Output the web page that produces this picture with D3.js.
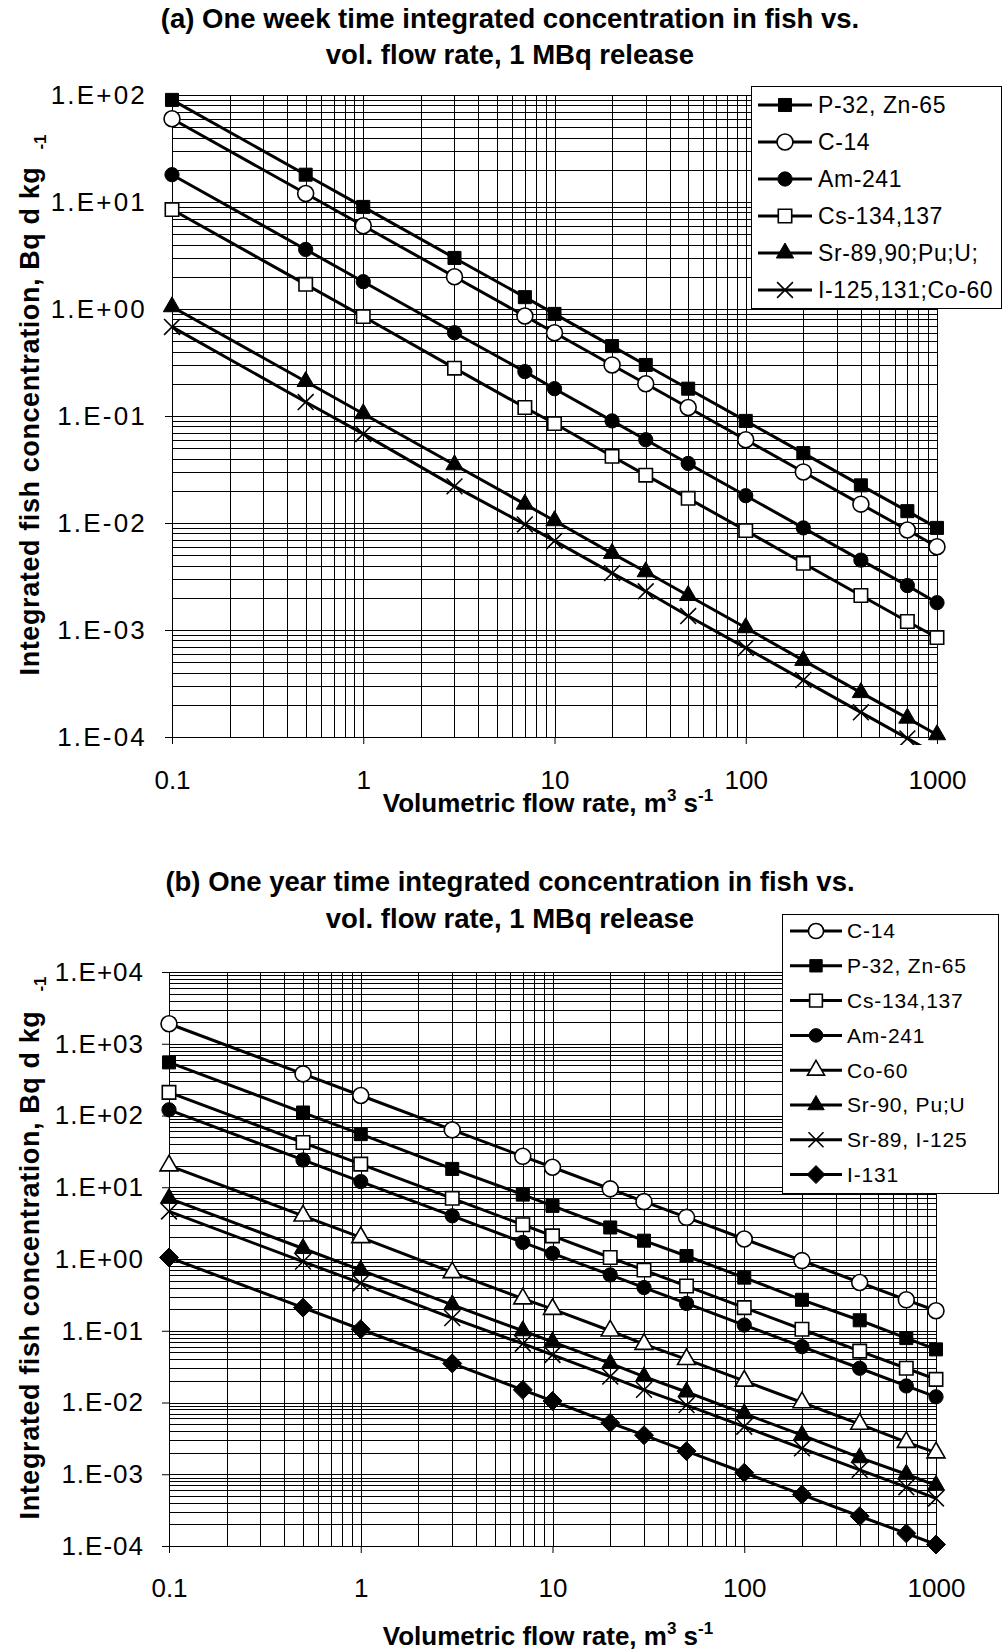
<!DOCTYPE html>
<html><head><meta charset="utf-8">
<script src="https://cdn.jsdelivr.net/npm/d3@7"></script>
<style>
html,body{margin:0;padding:0;background:#fff;}
svg text{font-family:"Liberation Sans",Arial,sans-serif;fill:#000;}
</style></head>
<body><svg id="c" width="1005" height="1650"></svg>
<script>
// ---------- data ----------
const flowRates = [0.1, 0.5, 1, 3, 7, 10, 20, 30, 50, 100, 200, 400, 700, 1000];

// (a) one week
const weekNames = ["P-32, Zn-65", "C-14", "Am-241", "Cs-134,137", "Sr-89,90;Pu;U;", "I-125,131;Co-60"];
const weekP32 = [90, 18, 9, 3, 1.29, 0.9, 0.45, 0.3, 0.18, 0.09, 0.045, 0.0225, 0.0129, 0.009];
const weekC14 = [60, 12, 6, 2, 0.86, 0.6, 0.3, 0.2, 0.12, 0.06, 0.03, 0.015, 0.0086, 0.006];
const weekAm241 = [18, 3.6, 1.8, 0.6, 0.26, 0.18, 0.09, 0.06, 0.036, 0.018, 0.009, 0.0045, 0.0026, 0.0018];
const weekCs = [8.5, 1.7, 0.85, 0.28, 0.12, 0.085, 0.042, 0.028, 0.017, 0.0085, 0.0042, 0.0021, 0.0012, 0.00085];
const weekSr = [1.05, 0.21, 0.105, 0.035, 0.015, 0.0105, 0.0052, 0.0035, 0.0021, 0.00105, 0.00052, 0.00026, 0.00015, 0.000105];
const weekI = [0.68, 0.135, 0.068, 0.022, 0.0097, 0.0068, 0.0034, 0.0023, 0.00135, 0.00068, 0.00034, 0.00017, 0.000097, 0.000068];

// (b) one year
const yearNames = ["C-14", "P-32, Zn-65", "Cs-134,137", "Am-241", "Co-60", "Sr-90, Pu;U", "Sr-89, I-125", "I-131"];
const yearC14 = [1900, 380, 190, 63, 27, 19, 9.5, 6.3, 3.8, 1.9, 0.95, 0.47, 0.27, 0.19];
const yearP32 = [550, 110, 55, 18, 7.9, 5.5, 2.75, 1.8, 1.1, 0.55, 0.27, 0.14, 0.079, 0.055];
const yearCs = [210, 42, 21, 7, 3, 2.1, 1.05, 0.7, 0.42, 0.21, 0.105, 0.052, 0.03, 0.021];
const yearAm241 = [120, 24, 12, 4, 1.7, 1.2, 0.6, 0.4, 0.24, 0.12, 0.06, 0.03, 0.017, 0.012];
const yearCo60 = [20, 4, 2, 0.65, 0.28, 0.2, 0.1, 0.065, 0.04, 0.02, 0.01, 0.005, 0.0028, 0.002];
const yearSr90 = [7, 1.4, 0.7, 0.23, 0.1, 0.07, 0.035, 0.023, 0.014, 0.007, 0.0035, 0.0017, 0.001, 0.0007];
const yearSr89 = [4.6, 0.92, 0.46, 0.15, 0.066, 0.046, 0.023, 0.015, 0.0092, 0.0046, 0.0023, 0.00115, 0.00066, 0.00046];
const yearI131 = [1.05, 0.21, 0.105, 0.035, 0.015, 0.0105, 0.0052, 0.0035, 0.0021, 0.00105, 0.00052, 0.00026, 0.00015, 0.000105];

// tick labels
const xTickValues = [0.1, 1, 10, 100, 1000];
const xTickLabels = ["0.1", "1", "10", "100", "1000"];
const yTickValuesA = [1e2, 1e1, 1e0, 1e-1, 1e-2, 1e-3, 1e-4];
const yTickLabelsA = ["1.E+02", "1.E+01", "1.E+00", "1.E-01", "1.E-02", "1.E-03", "1.E-04"];
const yTickValuesB = [1e4, 1e3, 1e2, 1e1, 1e0, 1e-1, 1e-2, 1e-3, 1e-4];
const yTickLabelsB = ["1.E+04", "1.E+03", "1.E+02", "1.E+01", "1.E+00", "1.E-01", "1.E-02", "1.E-03", "1.E-04"];

const titleA = ["(a) One week time integrated concentration in fish vs.", "vol. flow rate, 1 MBq release"];
const titleB = ["(b) One year time integrated concentration in fish vs.", "vol. flow rate, 1 MBq release"];
const xTitleParts = ["Volumetric flow rate, m", "3", " s", "-1"];
const yTitleParts = ["Integrated fish concentration, Bq d kg", "-1"];

// ---------- marker shapes ----------
const symX = {draw(ctx, size){const r=Math.sqrt(size)/2; ctx.moveTo(-r,-r);ctx.lineTo(r,r);ctx.moveTo(r,-r);ctx.lineTo(-r,r);}};
const symDiamond = {draw(ctx, size){const r=Math.sqrt(size)/2; ctx.moveTo(0,-r);ctx.lineTo(r,0);ctx.lineTo(0,r);ctx.lineTo(-r,0);ctx.closePath();}};
const markers = {
  sqFill: {type:d3.symbolSquare, size:170, fill:"#000", sw:1},
  sqOpen: {type:d3.symbolSquare, size:180, fill:"#fff", sw:1.6},
  ciFill: {type:d3.symbolCircle, size:160, fill:"#000", sw:1},
  ciOpen: {type:d3.symbolCircle, size:200, fill:"#fff", sw:1.6},
  trFill: {type:d3.symbolTriangle, size:130, fill:"#000", sw:1},
  trOpen: {type:d3.symbolTriangle, size:140, fill:"#fff", sw:1.6},
  xMark: {type:symX, size:250, fill:"none", sw:1.6},
  diFill: {type:symDiamond, size:360, fill:"#000", sw:1}
};

const svg = d3.select("#c");

function drawChart(cfg){
  const x = d3.scaleLog().domain([0.1, 1000]).range([cfg.x0, cfg.x1]);
  const y = d3.scaleLog().domain(cfg.yDomain).range([cfg.yBot, cfg.yTop]);
  const g = svg.append("g");

  // grid
  const xs = [], ys = [];
  for (let e = -1; e <= 3; e++) for (let k = 1; k <= 9; k++) { const v = k * Math.pow(10, e); if (v <= 1000 * 1.0001) xs.push(v); }
  const eMin = Math.round(Math.log10(cfg.yDomain[0])), eMax = Math.round(Math.log10(cfg.yDomain[1]));
  for (let e = eMin; e <= eMax; e++) for (let k = 1; k <= 9; k++) { const v = k * Math.pow(10, e); if (v <= cfg.yDomain[1] * 1.0001) ys.push(v); }
  const grid = g.append("g").attr("shape-rendering", "crispEdges");
  grid.selectAll("line.v").data(xs).join("line")
    .attr("x1", d => Math.round(x(d)) + 0.5).attr("x2", d => Math.round(x(d)) + 0.5)
    .attr("y1", cfg.yTop).attr("y2", cfg.yBot).attr("stroke", "#000").attr("stroke-width", 1);
  grid.selectAll("line.h").data(ys).join("line")
    .attr("y1", d => Math.round(y(d)) + 0.5).attr("y2", d => Math.round(y(d)) + 0.5)
    .attr("x1", cfg.x0).attr("x2", cfg.x1).attr("stroke", "#000").attr("stroke-width", 1);

  // axes
  const ax = g.append("g").attr("transform", `translate(0,${cfg.yBot})`)
    .call(d3.axisBottom(x).tickValues(xTickValues).tickFormat((d, i) => xTickLabels[i]).tickSize(7).tickPadding(cfg.xPad));
  const ay = g.append("g").attr("transform", `translate(${cfg.x0},0)`)
    .call(d3.axisLeft(y).tickValues(cfg.yTicks).tickFormat((d, i) => cfg.yLabels[i]).tickSize(7).tickPadding(18));
  [ax, ay].forEach(a => {
    a.select(".domain").attr("stroke", "#000").attr("stroke-width", 1);
    a.selectAll(".tick line").attr("stroke", "#000");
    a.selectAll(".tick text").style("font-family", '"Liberation Sans",Arial,sans-serif').style("font-size", "26px").attr("fill", "#000");
  });
  ay.selectAll(".tick text").style("letter-spacing", cfg.yLs + "px");

  // clip
  const cid = "clip" + cfg.id;
  svg.append("clipPath").attr("id", cid).append("rect")
    .attr("x", cfg.x0 - 20).attr("y", cfg.yTop - 20).attr("width", cfg.x1 - cfg.x0 + 40).attr("height", cfg.yBot - cfg.yTop + 28);
  const plot = g.append("g").attr("clip-path", `url(#${cid})`);
  const line = d3.line().x((d, i) => x(flowRates[i])).y(d => y(d));
  cfg.series.forEach(s => {
    plot.append("path").datum(s.values).attr("d", line).attr("fill", "none").attr("stroke", "#000").attr("stroke-width", 3);
  });
  cfg.series.forEach(s => {
    const m = markers[s.marker];
    const sym = d3.symbol().type(m.type).size(m.size);
    plot.selectAll(null).data(s.values).join("path")
      .attr("d", sym).attr("transform", (d, i) => `translate(${x(flowRates[i])},${y(d)})`)
      .attr("fill", m.fill).attr("stroke", "#000").attr("stroke-width", m.sw);
  });

  // legend
  const L = cfg.legend;
  const lg = svg.append("g");
  lg.append("rect").attr("x", L.x + 0.5).attr("y", L.y + 0.5).attr("width", L.w).attr("height", L.h)
    .attr("fill", "#fff").attr("stroke", "#000").attr("stroke-width", 1);
  cfg.series.forEach((s, i) => {
    const cy = L.row0 + i * L.dy;
    lg.append("line").attr("x1", L.lx0).attr("x2", L.lx1).attr("y1", cy).attr("y2", cy).attr("stroke", "#000").attr("stroke-width", 3);
    const m = markers[s.marker];
    lg.append("path").attr("d", d3.symbol().type(m.type).size(m.size * L.ms)())
      .attr("transform", `translate(${(L.lx0 + L.lx1) / 2},${cy})`)
      .attr("fill", m.fill).attr("stroke", "#000").attr("stroke-width", m.sw);
    lg.append("text").attr("x", L.tx).attr("y", cy).attr("dy", "0.35em")
      .style("font-size", L.fs + "px").style("letter-spacing", L.ls + "px").text(s.name);
  });

  // titles
  cfg.title.forEach((t, i) => {
    svg.append("text").attr("x", cfg.tx).attr("y", cfg.ty[i]).attr("text-anchor", "middle")
      .style("font-size", "27.5px").style("font-weight", "bold").text(t);
  });
  const xt = svg.append("text").attr("x", cfg.xtX).attr("y", cfg.xtY).attr("text-anchor", "middle")
    .style("font-size", "26px").style("font-weight", "bold");
  xt.append("tspan").text(xTitleParts[0]);
  xt.append("tspan").attr("dy", -11).style("font-size", "17px").text(xTitleParts[1]);
  xt.append("tspan").attr("dy", 11).text(xTitleParts[2]);
  xt.append("tspan").attr("dy", -11).style("font-size", "17px").text(xTitleParts[3]);

  svg.append("text").attr("transform", `translate(${cfg.ytX},${cfg.ytY}) rotate(-90)`)
    .attr("text-anchor", "middle").style("font-size", "27px").style("font-weight", "bold")
    .style("letter-spacing", "0.6px").text(yTitleParts[0]);
  svg.append("text").attr("transform", `translate(${cfg.ysX},${cfg.ysY}) rotate(-90)`)
    .attr("text-anchor", "middle").style("font-size", "17px").style("font-weight", "bold").text(yTitleParts[1]);
}

drawChart({
  id: "A", x0: 172, x1: 937, yTop: 95, yBot: 737, yDomain: [1e-4, 1e2],
  yTicks: yTickValuesA, yLabels: yTickLabelsA, xPad: 27, yLs: 2.2,
  series: [
    {name: weekNames[0], values: weekP32, marker: "sqFill"},
    {name: weekNames[1], values: weekC14, marker: "ciOpen"},
    {name: weekNames[2], values: weekAm241, marker: "ciFill"},
    {name: weekNames[3], values: weekCs, marker: "sqOpen"},
    {name: weekNames[4], values: weekSr, marker: "trFill"},
    {name: weekNames[5], values: weekI, marker: "xMark"}
  ],
  legend: {x: 751, y: 86, w: 250, h: 222, row0: 105, dy: 37, lx0: 758, lx1: 812, tx: 818, fs: 23, ls: 0.6, ms: 1},
  title: titleA, tx: 510, ty: [28, 64],
  xtX: 548, xtY: 812, ytX: 39, ytY: 421, ysX: 46, ysY: 142
});

drawChart({
  id: "B", x0: 169, x1: 936, yTop: 972, yBot: 1546, yDomain: [1e-4, 1e4],
  yTicks: yTickValuesB, yLabels: yTickLabelsB, xPad: 26, yLs: 1,
  series: [
    {name: yearNames[0], values: yearC14, marker: "ciOpen"},
    {name: yearNames[1], values: yearP32, marker: "sqFill"},
    {name: yearNames[2], values: yearCs, marker: "sqOpen"},
    {name: yearNames[3], values: yearAm241, marker: "ciFill"},
    {name: yearNames[4], values: yearCo60, marker: "trOpen"},
    {name: yearNames[5], values: yearSr90, marker: "trFill"},
    {name: yearNames[6], values: yearSr89, marker: "xMark"},
    {name: yearNames[7], values: yearI131, marker: "diFill"}
  ],
  legend: {x: 782, y: 914, w: 216, h: 279, row0: 931, dy: 34.8, lx0: 790, lx1: 842, tx: 847, fs: 21, ls: 0.8, ms: 0.9},
  title: titleB, tx: 510, ty: [891, 928],
  xtX: 548, xtY: 1645, ytX: 39, ytY: 1265, ysX: 46, ysY: 984
});
</script></body></html>
